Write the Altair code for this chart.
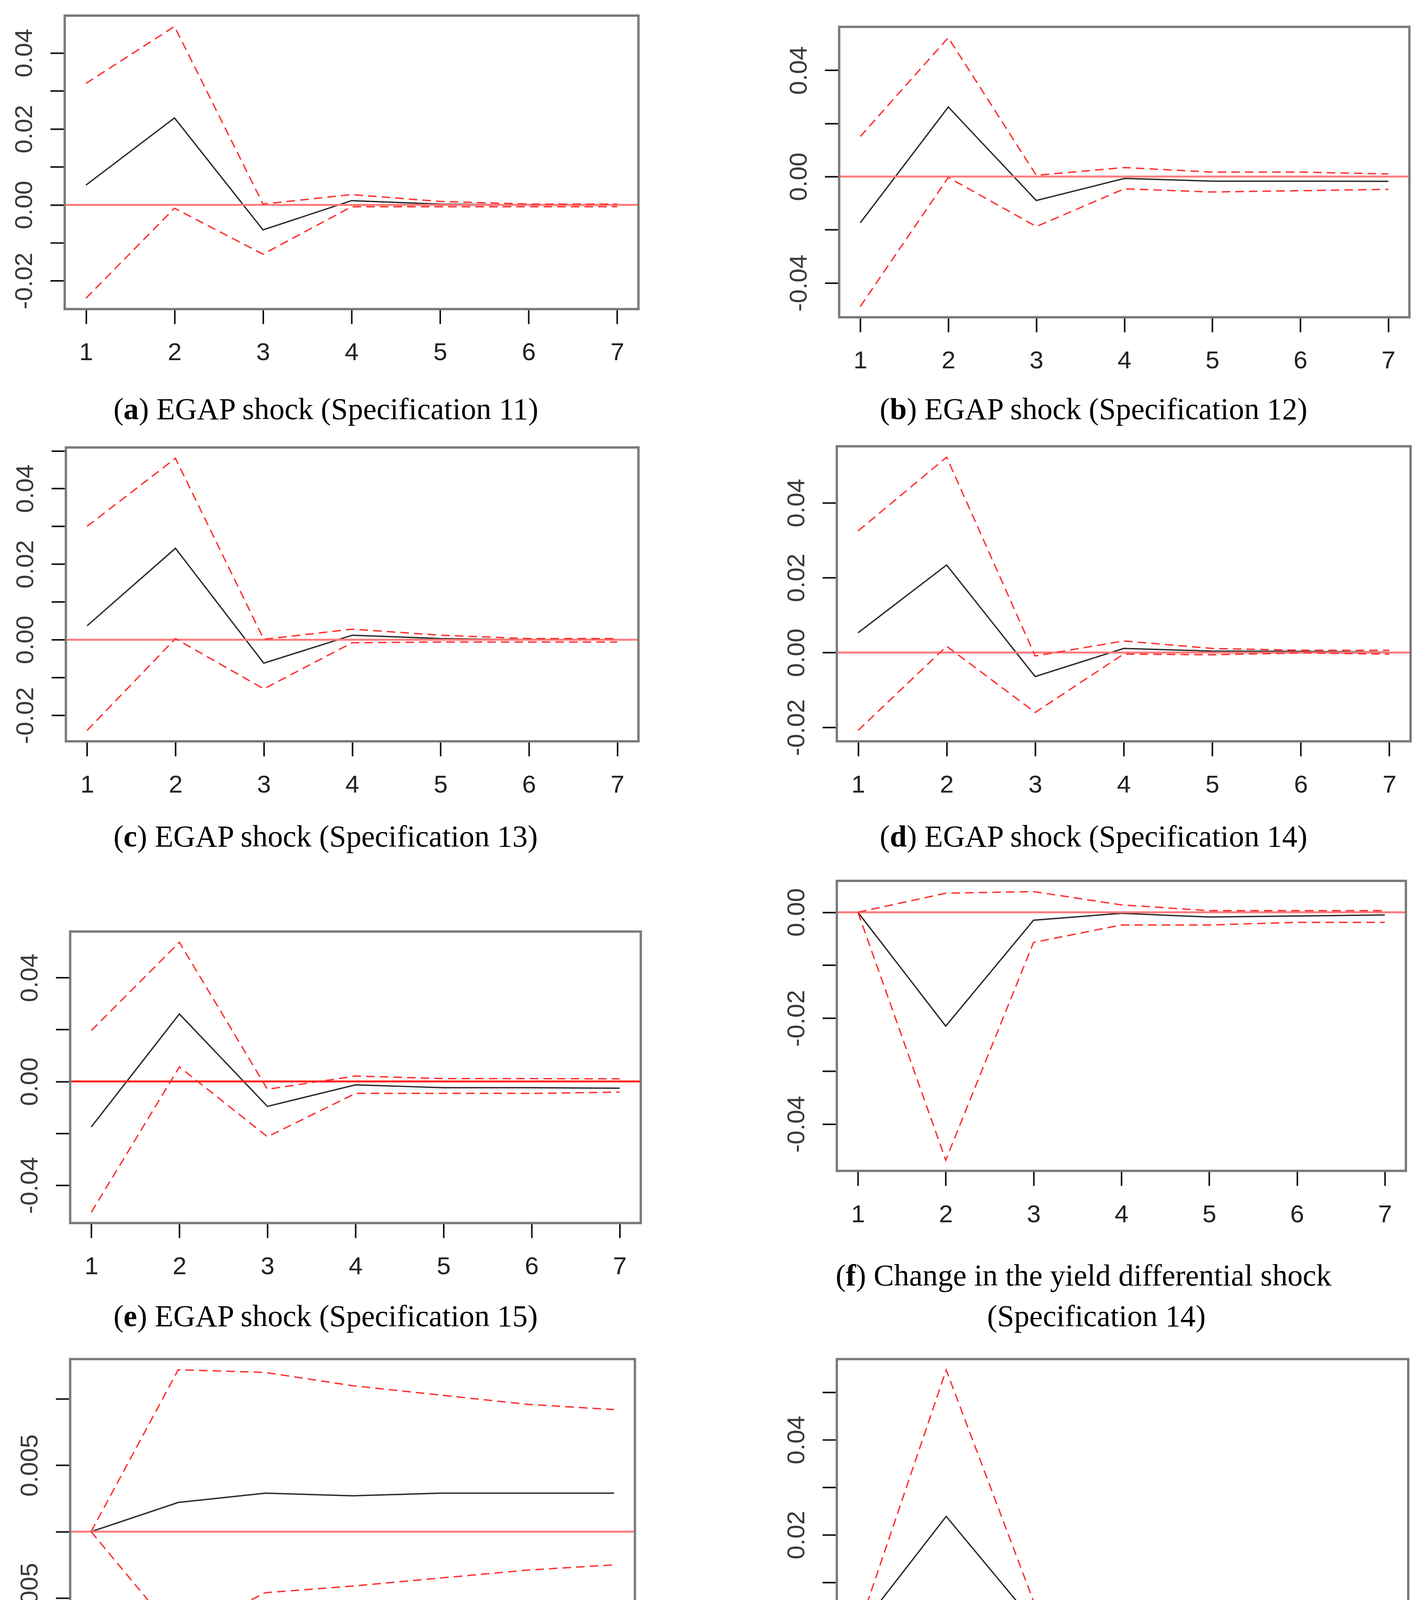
import altair as alt
import pandas as pd

steps = [1, 2, 3, 4, 5, 6, 7]

# ---- impulse responses (irf), upper and lower bands ----
a_irf = [0.0052, 0.0229, -0.0066, 0.0011, 0.0002, 0.0000, 0.0000]
a_up = [0.0320, 0.0470, 0.0002, 0.0027, 0.0009, 0.0002, 0.0002]
a_lo = [-0.0246, -0.0009, -0.0130, -0.0005, -0.0005, -0.0005, -0.0005]

b_irf = [-0.0174, 0.0262, -0.0090, -0.0007, -0.0017, -0.0017, -0.0018]
b_up = [0.0151, 0.0523, 0.0005, 0.0034, 0.0017, 0.0017, 0.0010]
b_lo = [-0.0489, -0.0003, -0.0188, -0.0046, -0.0058, -0.0053, -0.0048]

c_irf = [0.0037, 0.0242, -0.0062, 0.0012, 0.0003, 0.0000, 0.0000]
c_up = [0.0300, 0.0480, 0.0001, 0.0028, 0.0012, 0.0003, 0.0003]
c_lo = [-0.0240, 0.0003, -0.0130, -0.0008, -0.0006, -0.0006, -0.0006]

d_irf = [0.0053, 0.0234, -0.0064, 0.0011, 0.0004, 0.0003, 0.0001]
d_up = [0.0325, 0.0522, -0.0009, 0.0031, 0.0011, 0.0006, 0.0006]
d_lo = [-0.0208, 0.0017, -0.0160, -0.0004, -0.0006, -0.0001, -0.0004]

e_irf = [-0.0175, 0.0260, -0.0096, -0.0013, -0.0024, -0.0024, -0.0026]
e_up = [0.0196, 0.0536, -0.0030, 0.0021, 0.0011, 0.0011, 0.0010]
e_lo = [-0.0504, 0.0056, -0.0213, -0.0046, -0.0046, -0.0046, -0.0041]

f_irf = [0.0000, -0.0215, -0.0015, -0.0002, -0.0009, -0.0007, -0.0005]
f_up = [0.0000, 0.0036, 0.0039, 0.0014, 0.0003, 0.0003, 0.0003]
f_lo = [0.0000, -0.0468, -0.0057, -0.0024, -0.0024, -0.0019, -0.0019]

g_irf = [0.0000, 0.0022, 0.0029, 0.0027, 0.0029, 0.0029, 0.0029]
g_up = [0.0000, 0.0122, 0.0120, 0.0110, 0.0103, 0.0096, 0.0092]
g_lo = [0.0000, -0.0079, -0.0046, -0.0041, -0.0035, -0.0029, -0.0025]

h_irf = [0.0000, 0.0239, 0.0016, 0.0005, 0.0003, 0.0002, 0.0001]
h_up = [0.0000, 0.0547, 0.0056, 0.0010, 0.0013, 0.0008, 0.0008]
h_lo = [0.0000, -0.0023, -0.0020, -0.0017, -0.0007, -0.0007, -0.0007]

# ---- y-axis ticks and which of them carry labels ----
a_ticks = [-0.02, -0.01, 0.0, 0.01, 0.02, 0.03, 0.04]
a_labels = [-0.02, 0.0, 0.02, 0.04]
b_ticks = [-0.04, -0.02, 0.0, 0.02, 0.04]
b_labels = [-0.04, 0.0, 0.04]
c_ticks = [-0.02, -0.01, 0.0, 0.01, 0.02, 0.03, 0.04, 0.05]
c_labels = [-0.02, 0.0, 0.02, 0.04]
d_ticks = [-0.02, 0.0, 0.02, 0.04]
d_labels = [-0.02, 0.0, 0.02, 0.04]
e_ticks = [-0.04, -0.02, 0.0, 0.02, 0.04]
e_labels = [-0.04, 0.0, 0.04]
f_ticks = [-0.04, -0.03, -0.02, -0.01, 0.0]
f_labels = [-0.04, -0.02, 0.0]
g_ticks = [-0.005, 0.0, 0.005, 0.01]
g_labels = [-0.005, 0.005]
h_ticks = [0.0, 0.01, 0.02, 0.03, 0.04, 0.05]
h_labels = [0.0, 0.02, 0.04]

# caption pieces: letter (bold) and the rest of the caption
cap_letters = ["a", "b", "c", "d", "e", "f", "g", "h"]
cap_rest = [
    "EGAP shock (Specification 11)",
    "EGAP shock (Specification 12)",
    "EGAP shock (Specification 13)",
    "EGAP shock (Specification 14)",
    "EGAP shock (Specification 15)",
    "Change in the yield differential shock",
    "VIX shock (Specification 15)",
    "Bid\u2013ask spread shock (Specification 15)",
]
cap_second_line = ["", "", "", "", "", "(Specification 14)", "", ""]

series = [
    (a_irf, a_up, a_lo), (b_irf, b_up, b_lo), (c_irf, c_up, c_lo), (d_irf, d_up, d_lo),
    (e_irf, e_up, e_lo), (f_irf, f_up, f_lo), (g_irf, g_up, g_lo), (h_irf, h_up, h_lo),
]
ticks = [a_ticks, b_ticks, c_ticks, d_ticks, e_ticks, f_ticks, g_ticks, h_ticks]
labels = [a_labels, b_labels, c_labels, d_labels, e_labels, f_labels, g_labels, h_labels]
decimals = [2, 2, 2, 2, 2, 2, 3, 2]

# ---- layout (pixels inside each grid cell) ----
CELL_W, CELL_H = 1820, 1130
# plot box: left, right, top, bottom
boxes = [
    (158, 1630, 27, 780),
    (325, 1788, 56, 801),
    (161, 1630, 5, 759),
    (319, 1791, 2, 759),
    (172, 1636, 117, 865),
    (319, 1779, -13, 731),
    (172, 1621, 84, 823),
    (319, 1785, 84, 835),
]
# caption: left x, centre y (first line); second line centre x, y
cap_pos = [
    (283, 1039), (429, 1039), (283, 1006), (429, 1006),
    (283, 1106), (316, 1002), (315, 1082), (278, 1082),
]
cap2_pos = [None, None, None, None, None, (985, 1106), None, None]
zero_colors = ["#ff7a7a", "#ff7a7a", "#ff7a7a", "#ff7a7a", "#ff1a1a", "#ff7a7a", "#ff7a7a", "#ff1a1a"]

CAP_FS = 78
PAREN_W = 0.333          # Times "(" advance (em)
BOLD_W = {"a": 0.5, "b": 0.556, "c": 0.444, "d": 0.556, "e": 0.444,
          "f": 0.333, "g": 0.5, "h": 0.556}

TICK_FONT = "Liberation Sans, Arial, sans-serif"
CAP_FONT = "Liberation Serif, Times New Roman, serif"


def label_expr(lbls, dec):
    expr = "''"
    for v in reversed(lbls):
        s = f"{v:.{dec}f}"
        expr = f"abs(datum.value - ({v})) < 1e-9 ? '{s}' : ({expr})"
    return expr


def one_row():
    return pd.DataFrame({"k": [0]})


def text_piece(txt, x, y, align, weight):
    return alt.Chart(one_row()).mark_text(
        align=align, baseline="middle", font=CAP_FONT, fontSize=CAP_FS,
        fontWeight=weight, color="#000000", limit=3000,
    ).encode(x=alt.value(x), y=alt.value(y), text=alt.value(txt))


def panel(i):
    irf, up, lo = series[i]
    L, R, T, B = boxes[i]
    df_irf = pd.DataFrame({"step": steps, "value": irf})
    df_band = pd.DataFrame({
        "step": steps * 2,
        "value": up + lo,
        "band": ["upper"] * 7 + ["lower"] * 7,
    })
    allv = irf + up + lo
    vmin, vmax = min(allv), max(allv)
    rng = vmax - vmin
    ydom = [vmin - 0.04 * rng, vmax + 0.04 * rng]

    xs = alt.Scale(domain=[0.76, 7.24], range=[L, R], nice=False, zero=False)
    ys = alt.Scale(domain=ydom, range=[B, T], nice=False, zero=False)

    xaxis = alt.Axis(
        values=steps, title=None, grid=False, domain=False, format="d",
        orient="bottom", offset=-(CELL_H - B),
        tickSize=38, tickWidth=4, tickColor="#111111",
        labelFont=TICK_FONT, labelFontSize=64, labelColor="#222222",
        labelPadding=42, labelFlush=False, labelOverlap=False, labelLimit=1000,
    )
    yaxis = alt.Axis(
        values=ticks[i], title=None, grid=False, domain=False,
        orient="left", offset=-L,
        tickSize=37, tickWidth=4, tickColor="#111111",
        labelFont=TICK_FONT, labelFontSize=64, labelColor="#3a3a3a",
        labelAngle=270, labelAlign="center", labelBaseline="bottom",
        labelPadding=34, labelFlush=False, labelOverlap=False, labelLimit=1000,
        labelExpr=label_expr(labels[i], decimals[i]),
    )

    zero = alt.Chart(one_row()).mark_rule(
        color=zero_colors[i], strokeWidth=5
    ).encode(y=alt.datum(0, scale=ys), x=alt.value(L), x2=alt.value(R))

    center = alt.Chart(df_irf).mark_line(color="#2b2b2b", strokeWidth=3.5).encode(
        x=alt.X("step:Q", scale=xs, axis=xaxis),
        y=alt.Y("value:Q", scale=ys, axis=yaxis),
    )
    bands = alt.Chart(df_band).mark_line(
        color="#ff3030", strokeWidth=3.5, strokeDash=[22, 13]
    ).encode(
        x=alt.X("step:Q", scale=xs),
        y=alt.Y("value:Q", scale=ys),
        detail="band:N",
    )
    frame = alt.Chart(one_row()).mark_rect(
        fillOpacity=0, stroke="#7a7a7a", strokeWidth=6
    ).encode(x=alt.value(L), x2=alt.value(R), y=alt.value(T), y2=alt.value(B))

    cx, cy = cap_pos[i]
    letter = cap_letters[i]
    x_letter = cx + PAREN_W * CAP_FS
    x_rest = x_letter + BOLD_W[letter] * CAP_FS
    caps = [
        text_piece("(", cx, cy, "left", "normal"),
        text_piece(letter, x_letter, cy, "left", "bold"),
        text_piece(") " + cap_rest[i], x_rest, cy, "left", "normal"),
    ]
    if cap2_pos[i] is not None:
        x2, y2 = cap2_pos[i]
        caps.append(text_piece(cap_second_line[i], x2, y2, "center", "normal"))

    return alt.layer(center, zero, bands, frame, *caps).properties(
        width=CELL_W, height=CELL_H,
    )


chart = alt.concat(
    *[panel(i) for i in range(8)],
    columns=2, spacing=0, bounds="flush",
).properties(
    padding=0,
    background="white",
).configure_view(
    strokeWidth=0
)

chart.save("out.html", embed_options={"renderer": "svg", "actions": False})
